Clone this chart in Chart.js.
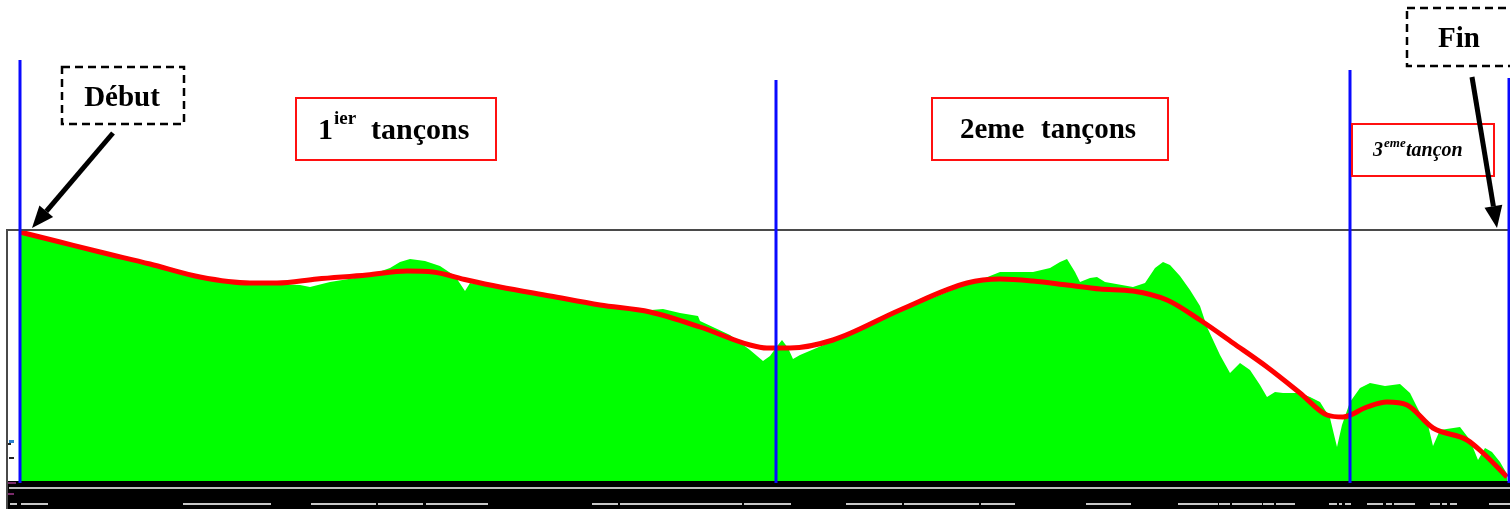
<!DOCTYPE html>
<html><head><meta charset="utf-8">
<script src="https://cdn.jsdelivr.net/npm/chart.js@4/dist/chart.umd.min.js"></script>
<style>html,body{margin:0;padding:0;background:#fff;overflow:hidden}canvas{display:block}</style>
</head><body>
<canvas id="c" width="1510" height="509"></canvas>
<script>
// ---- data (distance along route, elevation; arbitrary units) ----
const terrainDistance = [0,40,80,130,180,230,260,280,290,310,347,370,380,390,405,420,435,445,450,480,530,580,620,643,660,678,680,710,730,743,750,758,762,768,773,780,813,880,947,965,980,1013,1030,1040,1047,1055,1060,1070,1077,1085,1113,1125,1135,1143,1150,1160,1170,1180,1187,1200,1210,1220,1230,1240,1247,1255,1263,1280,1290,1300,1310,1317,1322,1330,1340,1350,1365,1380,1390,1400,1408,1413,1420,1440,1450,1458,1465,1472,1480,1487];
const terrainElevation = [248,238,228,216,203,197,197,196,194,199,205,213,219,222,220,215,205,190,198,193,184,175,170,172,168,165,160,146,131,120,125,136,141,133,122,126,140,170,197,203,209,209,213,219,222,209,199,203,204,199,194,198,213,219,216,205,191,175,154,126,108,118,111,96,84,89,88,88,84,79,63,34,56,79,93,98,95,97,88,68,56,35,51,54,41,21,33,29,19,7];
const profileDistance = [0,40,80,130,180,230,257,297,347,387,413,447,480,530,580,630,680,730,747,770,813,880,947,980,1013,1047,1080,1113,1147,1180,1213,1247,1280,1307,1323,1347,1367,1387,1413,1447,1463,1487];
const profileElevation = [249,239,229,217,204,198,198,202,206,210,209,201,194,185,176,169,154,136,133,133,141,171,198,202,200,196,192,190,181,161,138,114,88,66,64,74,79,76,53,41,28,4];
const segmentBounds = [0, 756, 1330, 1489];
const segmentLabels = ['1ier tançons', '2eme tançons', '3eme tançon'];
const startLabel = 'Début';
const endLabel = 'Fin';

const terrainPts = terrainDistance.map((d,i)=>({x:d,y:terrainElevation[i]}));
const profilePts = profileDistance.map((d,i)=>({x:d,y:profileElevation[i]}));

const decor = {
  id:'decor',
  beforeDraw(chart){
    const ctx=chart.ctx; ctx.save(); ctx.fillStyle='#fff'; ctx.fillRect(0,0,chart.width,chart.height); ctx.restore();
  },
  afterDatasetsDraw(chart){
    const {ctx, chartArea:a, scales:{x}} = chart;
    const H = chart.height;
    ctx.save();
    // frame
    ctx.strokeStyle='#4a4a4a'; ctx.lineWidth=2;
    ctx.beginPath(); ctx.moveTo(a.left+1,H); ctx.lineTo(a.left+1,a.top+1); ctx.lineTo(a.right,a.top+1); ctx.stroke();
    // black status band
    ctx.fillStyle='#000'; ctx.fillRect(a.left+2,a.bottom,a.right-a.left,H-a.bottom);
    ctx.fillStyle='#bdbdbd'; ctx.fillRect(a.left+3,a.bottom+6,a.right-a.left,2);
    const dashes=[[10,17],[21,48],[183,271],[311,376],[378,423],[426,488],[592,618],[620,742],[744,791],[846,902],[904,979],[981,1015],[1086,1131],[1178,1218],[1219,1230],[1232,1262],[1263,1274],[1276,1295],[1329,1337],[1339,1342],[1345,1351],[1367,1383],[1386,1392],[1394,1415],[1430,1440],[1442,1447],[1450,1457],[1489,1510]];
    ctx.fillStyle='#c8c8c8';
    dashes.forEach(d=>ctx.fillRect(d[0],a.bottom+22,d[1]-d[0],2));
    ctx.fillStyle='#7a2a6a'; ctx.fillRect(8,a.bottom+1,8,2); ctx.fillRect(8,a.bottom+12,6,2);
    // tiny icons left
    ctx.fillStyle='#2a7fd0'; ctx.fillRect(9,440,5,3); ctx.fillStyle='#222'; ctx.fillRect(8,443,3,2); ctx.fillRect(9,457,5,2);
    // blue segment boundaries
    const tops=[60,80,70,78];
    ctx.strokeStyle='#0a0aff'; ctx.lineWidth=3;
    segmentBounds.forEach((b,i)=>{
      const px=Math.round(x.getPixelForValue(b));
      ctx.beginPath(); ctx.moveTo(px,tops[i]); ctx.lineTo(px,a.bottom+2); ctx.stroke();
    });
    // boxes
    ctx.lineWidth=2.5; ctx.strokeStyle='#000'; ctx.setLineDash([8,5]);
    ctx.strokeRect(62,67,122,57);
    ctx.strokeRect(1407,8,110,58);
    ctx.setLineDash([]);
    ctx.strokeStyle='#ff1010'; ctx.lineWidth=2;
    ctx.strokeRect(296,98,200,62);
    ctx.strokeRect(932,98,236,62);
    ctx.strokeRect(1352,124,142,52);
    // arrows
    function arrow(x1,y1,x2,y2){
      const ang=Math.atan2(y2-y1,x2-x1), L=22, W=9;
      const bx=x2-L*Math.cos(ang), by=y2-L*Math.sin(ang);
      ctx.strokeStyle='#000'; ctx.lineWidth=5; ctx.lineCap='butt';
      ctx.beginPath(); ctx.moveTo(x1,y1); ctx.lineTo(bx,by); ctx.stroke();
      ctx.fillStyle='#000'; ctx.beginPath(); ctx.moveTo(x2,y2);
      ctx.lineTo(bx+W*Math.sin(ang),by-W*Math.cos(ang));
      ctx.lineTo(bx-W*Math.sin(ang),by+W*Math.cos(ang)); ctx.closePath(); ctx.fill();
    }
    arrow(113,133,32,228);
    arrow(1472,77,1497,228);
    // texts
    ctx.fillStyle='#000'; ctx.textBaseline='alphabetic';
    const F='"Liberation Serif", "Times New Roman", serif';
    ctx.font='bold 29px '+F; ctx.textAlign='center';
    ctx.fillText(startLabel,122,106);
    ctx.fillText(endLabel,1459,47);
    ctx.textAlign='left';
    // 1ier tançons
    ctx.font='bold 30px '+F; ctx.fillText('1',318,139);
    ctx.font='bold 19px '+F; ctx.fillText('ier',334,124);
    ctx.font='bold 30px '+F; ctx.fillText('tançons',371,139);
    // 2eme tançons
    ctx.font='bold 29px '+F; ctx.fillText('2eme',960,138); ctx.fillText('tançons',1041,138);
    // 3eme tançon
    ctx.font='italic bold 20px '+F; ctx.fillText('3',1373,156);
    ctx.font='italic bold 13px '+F; ctx.fillText('eme',1384,147);
    ctx.font='italic bold 20px '+F; ctx.fillText('tançon',1406,156);
    ctx.restore();
  }
};

new Chart(document.getElementById('c'), {
  type:'line',
  data:{datasets:[
    {label:'Profil lissé', data:profilePts, borderColor:'#ff0000', borderWidth:5, pointRadius:0, fill:false, cubicInterpolationMode:'monotone', order:1},
    {label:'Terrain', data:terrainPts, borderColor:'#00ff00', borderWidth:0, backgroundColor:'#00ff00', pointRadius:0, fill:'origin', tension:0, order:2}
  ]},
  options:{
    responsive:false, animation:false, devicePixelRatio:1,
    layout:{padding:{left:6,right:0,top:229,bottom:28}},
    scales:{
      x:{type:'linear',min:-14,max:1490,display:false},
      y:{min:0,max:252,display:false}
    },
    plugins:{legend:{display:false},tooltip:{enabled:false},title:{display:false}}
  },
  plugins:[decor]
});
</script>
</body></html>
